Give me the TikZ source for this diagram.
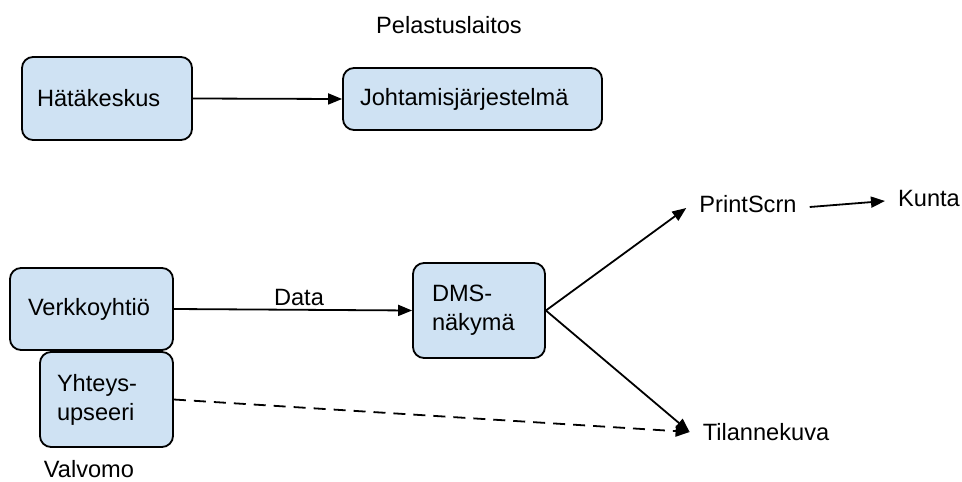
\documentclass[tikz,border=0pt]{standalone}
\usepackage{fontspec}
\setmainfont{Liberation Sans}
\usetikzlibrary{arrows.meta}
\definecolor{boxfill}{HTML}{CFE2F3}
\tikzset{
  box/.style={draw=black, line width=1.8pt, fill=boxfill, rounded corners=11pt,
    align=left, anchor=center, inner ysep=0pt},
  lbl/.style={inner xsep=13pt, inner ysep=2pt},
  conn/.style={line width=1.8pt, -{Triangle[length=14pt,width=11pt]}},
  txt/.style={font=\fontsize{23.6}{29}\selectfont},
}
\begin{document}
\begin{tikzpicture}[x=1pt, y=-1pt, txt]
\useasboundingbox (0,0) rectangle (962,482);

% top group
\node (pel) at (449,25) {Pelastuslaitos};
\node[box, minimum width=170pt, minimum height=83pt, text width=140pt, inner xsep=15pt]
  (hat) at (107,98.5) {Hätäkeskus};
\node[box, minimum width=259pt, minimum height=62pt, text width=225pt, inner xsep=17pt]
  (joh) at (472.5,99) {Johtamisjärjestelmä};
\draw[conn] (hat.east) -- (joh.west);

% bottom group
\node[box, minimum width=163pt, minimum height=82pt, text width=127pt, inner xsep=18pt]
  (verk) at (91.5,309) {Verkkoyhtiö};
\node[box, minimum width=133pt, minimum height=95pt, text width=99pt, inner xsep=17pt]
  (yht) at (106.5,399.5) {Yhteys-\\upseeri};
\node (valv) at (89,469) {Valvomo};
\node[box, minimum width=132pt, minimum height=95pt, text width=94pt, inner xsep=19pt]
  (dms) at (479,310.5) {DMS-\\näkymä};
\node[lbl] (print) at (748,204) {PrintScrn};
\node[lbl] (kunta) at (929,198) {Kunta};
\node[lbl] (tila) at (766,432) {Tilannekuva};

\draw[conn] (verk.east) -- node[pos=0.525, above, inner sep=3.5pt] (data) {Data} (dms.west);
\draw[conn] (dms.east) -- ([yshift=-4pt]print.west);
\draw[conn] (dms.east) -- (tila.west);
\draw[conn] ([yshift=-3pt]print.east) -- ([yshift=-3pt]kunta.west);
\draw[conn, dash pattern=on 12pt off 8pt] (yht.east) -- (tila.west);
\end{tikzpicture}
\end{document}
